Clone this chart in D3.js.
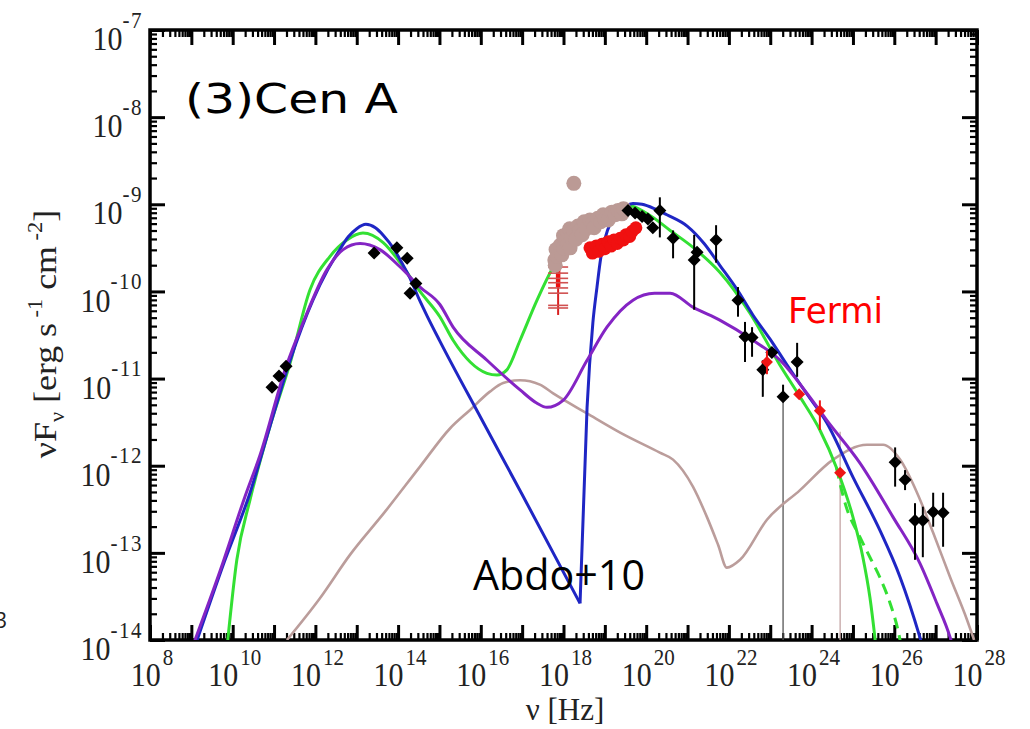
<!DOCTYPE html>
<html><head><meta charset="utf-8">
<script src="https://cdn.jsdelivr.net/npm/d3@7"></script>
<style>body{margin:0;background:#fff} svg{display:block}</style>
</head><body><svg id="c" width="1030" height="729"></svg>
<script>
// All values are [log10(nu / Hz), log10(nuFnu / erg s^-1 cm^-2)]
const blueModelA = [[9.14,-14],[9.8,-13.1],[10.42,-12.31],[10.9,-11.55],[11.39,-10.79],[11.94,-10.10],[12.3,-9.75],[12.55,-9.55],[12.8,-9.37],[13.0,-9.28],[13.22,-9.23],[13.45,-9.27],[13.65,-9.36],[13.88,-9.50],[14.1,-9.68],[14.29,-9.85],[14.50,-10.08],[14.70,-10.28],[15.01,-10.57],[16.0,-11.45],[17.0,-12.33],[18.40,-13.58]];
const blueModelB = [[18.40,-13.58],[18.57,-11.33],[18.71,-10.36],[18.81,-9.95],[18.9,-9.62],[19.0,-9.40],[19.15,-9.20],[19.35,-9.07],[19.54,-9.01],[19.68,-8.99],[19.9,-9.00],[20.2,-9.05],[20.5,-9.12],[20.99,-9.25],[21.4,-9.45],[21.78,-9.70],[22.2,-9.98],[22.58,-10.27],[23.0,-10.55],[23.40,-10.84],[23.89,-11.18],[24.37,-11.51],[25.0,-12.13],[25.65,-12.74],[26.14,-13.28],[26.62,-13.97],[26.7,-14.1]];
const greenModel = [[9.86,-14.1],[10.10,-13.08],[10.42,-12.39],[10.9,-11.55],[11.39,-10.82],[11.87,-9.98],[12.35,-9.60],[12.76,-9.41],[13.15,-9.33],[13.64,-9.44],[14.05,-9.67],[14.53,-10.0],[15.01,-10.29],[15.33,-10.56],[16.15,-10.94],[16.39,-10.96],[16.63,-10.90],[16.95,-10.56],[17.36,-10.10],[17.75,-9.72],[18.2,-9.4],[18.8,-9.15],[19.3,-9.04],[19.61,-9.02],[20.0,-9.10],[20.58,-9.30],[21.2,-9.52],[21.78,-9.78],[22.51,-10.25],[23.24,-10.85],[23.72,-11.21],[24.20,-11.59],[24.6,-12.02],[25.0,-12.59],[25.24,-13.05],[25.41,-13.51],[25.53,-13.97],[25.56,-14.1]];
const greenDashed = [[24.6,-12.02],[24.81,-12.43],[25.17,-12.82],[25.41,-13.05],[25.65,-13.28],[25.90,-13.58],[26.09,-13.89],[26.16,-14.05]];
const purpleModel = [[9.05,-14.05],[9.7,-13.2],[10.3,-12.35],[10.66,-11.88],[11.3,-10.85],[11.70,-10.36],[12.28,-9.75],[12.67,-9.52],[13.08,-9.45],[13.56,-9.52],[14.05,-9.72],[14.53,-9.95],[15.01,-10.15],[15.33,-10.41],[16.15,-10.79],[16.95,-11.13],[17.35,-11.28],[17.60,-11.33],[17.99,-11.25],[18.57,-10.79],[19.05,-10.41],[19.68,-10.10],[20.2,-10.02],[20.58,-10.02],[21.13,-10.18],[21.78,-10.33],[22.58,-10.56],[23.24,-10.79],[23.89,-11.17],[24.37,-11.48],[25.17,-11.97],[25.97,-12.59],[26.62,-13.12],[27.03,-13.58],[27.35,-13.97],[27.4,-14.05]];
const brownModel = [[11.31,-14.0],[12.11,-13.52],[12.84,-13.02],[13.68,-12.53],[14.53,-12.01],[15.26,-11.57],[15.74,-11.36],[16.22,-11.15],[16.54,-11.05],[16.95,-11.02],[17.43,-11.07],[17.75,-11.17],[18.57,-11.40],[19.37,-11.62],[20.33,-11.85],[20.65,-11.93],[21.13,-12.24],[21.47,-12.59],[21.74,-12.91],[21.95,-13.17],[22.27,-13.08],[22.92,-12.62],[23.72,-12.28],[24.52,-11.93],[25.34,-11.76],[25.73,-11.76],[26.14,-11.93],[26.55,-12.31],[26.94,-12.77],[27.35,-13.28],[27.76,-13.77],[27.93,-14.0]];

// black diamonds: [lognu, logF, errLow, errHigh]
const blackPoints = [[10.95,-11.10,null,null],[11.12,-10.97,null,null],[11.29,-10.86,null,null],[13.42,-9.56,null,null],[13.97,-9.50,null,null],[14.22,-9.62,null,null],[14.29,-10.02,null,null],[14.43,-9.91,null,null],[19.56,-9.07,null,null],[19.73,-9.10,null,null],[19.90,-9.14,null,null],[20.04,-9.17,null,null],[20.33,-9.07,-9.38,-8.92],[20.16,-9.27,null,null],[20.65,-9.39,-9.62,-9.30],[21.16,-9.64,-10.21,-9.35],[21.23,-9.55,null,null],[21.69,-9.41,-9.67,-9.24],[22.22,-10.10,-10.29,-9.95],[22.39,-10.52,-10.81,-10.35],[22.56,-10.53,-10.75,-10.41],[23.04,-10.70,null,null],[22.82,-10.90,-11.21,-10.79],[23.65,-10.81,-10.98,-10.59],[23.31,-11.21,null,-11.07],[26.02,-11.96,-12.24,-11.79],[26.26,-12.16,-12.28,-12.05],[26.50,-12.63,-13.08,-12.43],[26.69,-12.63,-13.05,-12.47],[26.94,-12.53,-12.70,-12.31],[27.18,-12.54,-12.93,-12.31]];
// thin limit lines: [lognu, logF top, logF bottom]
const limitLines = [[23.31,-11.21,-14],[24.69,-11.61,-14]];
// Fermi red diamonds
const fermiPoints = [[22.92,-10.81,-10.95,-10.68],[23.70,-11.18,null,null],[24.20,-11.37,-11.59,-11.25],[24.69,-12.08,null,null]];
// X-ray points
const greyCircles = [[17.79,-9.64],[17.80,-9.70],[17.82,-9.52],[17.85,-9.60],[17.92,-9.47],[17.96,-9.58],[18.0,-9.50],[18.04,-9.41],[18.0,-9.36],[18.1,-9.45],[18.11,-9.33],[18.15,-9.28],[18.16,-9.50],[18.2,-9.38],[18.25,-9.30],[18.3,-9.40],[18.35,-9.25],[18.4,-9.30],[18.45,-9.35],[18.50,-9.20],[18.55,-9.28],[18.64,-9.18],[18.7,-9.22],[18.74,-9.27],[18.83,-9.16],[18.9,-9.20],[18.96,-9.12],[19.0,-9.17],[19.08,-9.18],[19.17,-9.09],[19.25,-9.12],[19.32,-9.07],[19.41,-9.11],[19.45,-9.05],[18.25,-8.76]];
const redCircles = [[18.64,-9.50],[18.7,-9.56],[18.79,-9.48],[18.85,-9.54],[18.93,-9.46],[19.0,-9.51],[19.08,-9.43],[19.15,-9.48],[19.22,-9.41],[19.3,-9.45],[19.37,-9.39],[19.45,-9.41],[19.51,-9.35],[19.6,-9.37],[19.66,-9.31],[19.75,-9.27]];
const redCrossesNu = 17.87;
const redCrosses = [-9.72,-9.79,-9.85,-9.90,-9.96,-10.02,-10.16,-10.19];

const xTickExps = [8,10,12,14,16,18,20,22,24,26,28];
const yTickExps = [-7,-8,-9,-10,-11,-12,-13,-14];

const svg = d3.select("#c");
const L=150, R=977, T=30, B=640;
const x = d3.scaleLog().domain([1e8,1e28]).range([L,R]);
const y = d3.scaleLog().domain([1e-14,1e-7]).range([B,T]);
const X = v => x(Math.pow(10,v)), Y = v => y(Math.pow(10,v));

svg.append("defs").append("clipPath").attr("id","clip")
  .append("rect").attr("x",L).attr("y",T).attr("width",R-L).attr("height",B-T);

// ticks
const majX = d3.range(8,29).map(e=>Math.pow(10,e));
const minX = []; for(let e=8;e<28;e++) for(let k=2;k<10;k++) minX.push(k*Math.pow(10,e));
const majY = d3.range(-14,-6).map(e=>Math.pow(10,e));
const minY = []; for(let e=-14;e<-7;e++) for(let k=2;k<10;k++) minY.push(k*Math.pow(10,e));
function ax(gen, vals, size, tr, w){
  const g = svg.append("g").attr("transform",tr)
    .call(gen.tickValues(vals).tickSize(size).tickFormat(""));
  g.select(".domain").remove();
  g.selectAll("line").attr("stroke","#000").attr("stroke-width",w);
}
ax(d3.axisBottom(x), majX, -15, `translate(0,${B})`, 3);
ax(d3.axisBottom(x), minX, -7, `translate(0,${B})`, 2.2);
ax(d3.axisTop(x), majX, -15, `translate(0,${T})`, 3);
ax(d3.axisTop(x), minX, -7, `translate(0,${T})`, 2.2);
ax(d3.axisLeft(y), majY, -15, `translate(${L},0)`, 3);
ax(d3.axisLeft(y), minY, -7, `translate(${L},0)`, 2.2);
ax(d3.axisRight(y), majY, -15, `translate(${R},0)`, 3);
ax(d3.axisRight(y), minY, -7, `translate(${R},0)`, 2.2);

svg.append("rect").attr("x",L).attr("y",T).attr("width",R-L).attr("height",B-T)
  .attr("fill","none").attr("stroke","#000").attr("stroke-width",3.5);

const serif = "'Liberation Serif','DejaVu Serif',serif";
// y tick labels
yTickExps.forEach(e=>{
  const g = svg.append("g").attr("transform",`translate(143,${Y(e)}) scale(1,1.12)`);
  const t = g.append("text").attr("y",18).attr("text-anchor","end")
    .attr("font-family",serif).attr("fill","#222");
  t.append("tspan").attr("font-size",30).text("10");
  t.append("tspan").attr("font-size",21).attr("dy",-20).attr("letter-spacing",1.5).text(String(e));
});
// x tick labels
xTickExps.forEach(e=>{
  const g = svg.append("g").attr("transform",`translate(${X(e)+2},686) scale(1,1.12)`);
  const t = g.append("text").attr("text-anchor","middle")
    .attr("font-family",serif).attr("fill","#222");
  t.append("tspan").attr("font-size",30).text("10");
  t.append("tspan").attr("font-size",21).attr("dy",-19).attr("dx",2).text(String(e));
});
// axis titles
svg.append("text").attr("x",565).attr("y",720).attr("text-anchor","middle").attr("font-family",serif)
  .attr("font-size",31).attr("fill","#222").text("ν [Hz]");
const yt = svg.append("g").attr("transform","translate(56,334) rotate(-90) scale(1.12,1)")
  .append("text").attr("text-anchor","middle").attr("font-family",serif)
  .attr("font-size",32).attr("fill","#222");
yt.append("tspan").text("νF");
yt.append("tspan").attr("font-size",20).attr("dy",8).text("ν");
yt.append("tspan").attr("dy",-8).text(" [erg s");
yt.append("tspan").attr("font-size",20).attr("dy",-14).text(" -1");
yt.append("tspan").attr("dy",14).text(" cm");
yt.append("tspan").attr("font-size",20).attr("dy",-14).text(" -2");
yt.append("tspan").attr("dy",14).text("]");

const plot = svg.append("g").attr("clip-path","url(#clip)");
const line = d3.line().x(d=>X(d[0])).y(d=>Y(d[1])).curve(d3.curveMonotoneX);

// thin limit lines
plot.selectAll(".lim").data(limitLines).join("line")
  .attr("x1",d=>X(d[0])).attr("x2",d=>X(d[0])).attr("y1",d=>Y(d[1])).attr("y2",d=>Y(d[2]))
  .attr("stroke",(d,i)=>i===0?"#555":"#c4a4a4").attr("stroke-width",1.3);

// model curves
const curve = (data, col, dash) => plot.append("path").attr("d",line(data)).attr("fill","none")
  .attr("stroke",col).attr("stroke-width",3).attr("stroke-linejoin","round")
  .attr("stroke-dasharray",dash||null);
curve(brownModel,"#bb9d9b").attr("stroke-width",2.6);
curve(greenModel,"#33e033");
curve(greenDashed,"#33e033","11,7");
curve(blueModelA,"#1f26c4");
curve(blueModelB,"#1f26c4");
curve(purpleModel,"#8424c4");

// red crosses (upper limits)
plot.append("line").attr("x1",X(redCrossesNu)).attr("x2",X(redCrossesNu))
  .attr("y1",Y(-9.62)).attr("y2",Y(-10.27)).attr("stroke","#d82020").attr("stroke-width",2);
plot.append("line").attr("x1",X(redCrossesNu)).attr("x2",X(redCrossesNu))
  .attr("y1",Y(-9.62)).attr("y2",Y(-9.95)).attr("stroke","#ee1111").attr("stroke-width",4.5);
plot.selectAll(".rc").data(redCrosses).join("line")
  .attr("x1",X(redCrossesNu)-10).attr("x2",X(redCrossesNu)+10)
  .attr("y1",d=>Y(d)).attr("y2",d=>Y(d)).attr("stroke","#d05050").attr("stroke-width",1.6);

// grey & red circles
plot.selectAll(".gc").data(greyCircles).join("circle")
  .attr("cx",d=>X(d[0])).attr("cy",d=>Y(d[1])).attr("r",7.5).attr("fill","#bb9a95");
plot.selectAll(".rcc").data(redCircles).join("circle")
  .attr("cx",d=>X(d[0])).attr("cy",d=>Y(d[1])).attr("r",6.5).attr("fill","#f01010");

// error bars and diamonds
const dia = s => `M0,${-s}L${s},0L0,${s}L${-s},0Z`;
function points(data, col, s){
  plot.selectAll(null).data(data.filter(d=>d[2]!==null||d[3]!==null)).join("line")
    .attr("x1",d=>X(d[0])).attr("x2",d=>X(d[0]))
    .attr("y1",d=>Y(d[3]!==null?d[3]:d[1])).attr("y2",d=>Y(d[2]!==null?d[2]:d[1]))
    .attr("stroke",col).attr("stroke-width",2);
  plot.selectAll(null).data(data).join("path")
    .attr("transform",d=>`translate(${X(d[0])},${Y(d[1])})`).attr("d",dia(s)).attr("fill",col);
}
points(blackPoints,"#000",6.5);
points(fermiPoints,"#ee1515",6);

// annotations
svg.append("text").attr("x",185).attr("y",113).attr("font-family","'DejaVu Sans',sans-serif")
  .attr("font-size",41).attr("textLength",213).attr("lengthAdjust","spacingAndGlyphs")
  .attr("fill","#000").text("(3)Cen A");
svg.append("text").attr("x",788).attr("y",323).attr("font-family","'DejaVu Sans',sans-serif")
  .attr("font-size",35).attr("textLength",95).attr("lengthAdjust","spacingAndGlyphs")
  .attr("fill","#ff0000").text("Fermi");
svg.append("text").attr("x",473).attr("y",590).attr("font-family","'Open Sans',sans-serif")
  .attr("font-size",42).attr("textLength",172).attr("lengthAdjust","spacingAndGlyphs")
  .attr("fill","#000").text("Abdo+10");
svg.append("text").attr("x",-5).attr("y",628).attr("font-family","'Open Sans',sans-serif")
  .attr("font-size",21).attr("fill","#222").text("3");
</script></body></html>
